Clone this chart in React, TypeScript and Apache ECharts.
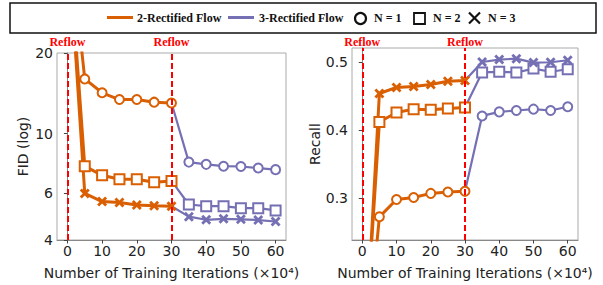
import React, { useEffect, useRef } from "react";
import * as echarts from "echarts";

// x positions (×10^4 iterations)
const iters2 = [0, 5, 10, 15, 20, 25, 30];
const iters3 = [35, 40, 45, 50, 55, 60];
const xTicks = [0, 10, 20, 30, 40, 50, 60];
const reflowAt = [0, 30];

// FID (log scale)
const fid2N1 = [65, 16.0, 14.2, 13.4, 13.4, 13.1, 13.0];
const fid3N1 = [7.82, 7.67, 7.55, 7.53, 7.43, 7.33];
const fid2N2 = [60, 7.55, 6.98, 6.75, 6.75, 6.57, 6.65];
const fid3N2 = [5.43, 5.35, 5.35, 5.26, 5.26, 5.16];
const fid2N3 = [58, 5.97, 5.57, 5.52, 5.41, 5.37, 5.35];
const fid3N3 = [4.89, 4.76, 4.8, 4.78, 4.75, 4.69];
const fidTicks = [4, 6, 10, 20];

// Recall
const rec2N1 = [0.01, 0.2725, 0.298, 0.301, 0.307, 0.309, 0.31];
const rec3N1 = [0.421, 0.427, 0.429, 0.431, 0.429, 0.4345];
const rec2N2 = [0.02, 0.412, 0.426, 0.431, 0.43, 0.432, 0.4335];
const rec3N2 = [0.485, 0.486, 0.485, 0.4907, 0.486, 0.4897];
const rec2N3 = [0.0, 0.454, 0.463, 0.4644, 0.4673, 0.472, 0.473];
const rec3N3 = [0.5004, 0.504, 0.5053, 0.4995, 0.5, 0.503];
const recTicks = [0.3, 0.4, 0.5];

const ORANGE = "#d95f02";
const PURPLE = "#7570b3";
const CROSS = "path://M2,0L5,3L8,0L10,2L7,5L10,8L8,10L5,7L2,10L0,8L3,5L0,2Z";
const AXIS_FONT = "DejaVu Sans";
const SERIF = "Liberation Serif";

const lg = (v: number) => Math.log10(v);

export default function App() {
  const ref = useRef<HTMLDivElement>(null);
  useEffect(() => {
    if (!ref.current) return;
    const chart = echarts.init(ref.current, null, { renderer: "svg" });

    const mk2 = (vals: number[], tf: (v: number) => number) =>
      iters2.map((x, i) =>
        i === 0 ? { value: [x, tf(vals[i])], symbol: "none" } : { value: [x, tf(vals[i])] }
      );
    const mk3 = (start: number, vals: number[], tf: (v: number) => number) => [
      { value: [30, tf(start)], symbol: "none" },
      ...iters3.map((x, i) => ({ value: [x, tf(vals[i])] })),
    ];

    const sym = (s: string) =>
      s === "cross"
        ? { symbol: CROSS, symbolSize: 10 }
        : { symbol: s, symbolSize: s === "emptyRect" ? 10 : 9 };

    const mkSeries = (
      gi: number,
      color: string,
      width: number,
      s: string,
      data: any[],
      z: number
    ) => ({
      type: "line",
      xAxisIndex: gi,
      yAxisIndex: gi,
      data,
      ...sym(s),
      showAllSymbol: true,
      z,
      lineStyle: { color, width },
      itemStyle:
        s === "cross"
          ? { color, borderWidth: 0 }
          : { color, borderColor: color, borderWidth: 2 },
      clip: true,
    });

    const markLine = (distance: number) => ({
      silent: true,
      symbol: ["none", "none"],
      lineStyle: { color: "#ff0000", type: [6, 3], width: 2 },
      label: {
        show: true,
        position: "end",
        formatter: "Reflow",
        color: "#ff0000",
        fontFamily: SERIF,
        fontWeight: "bold",
        fontSize: 12,
        distance,
      },
      data: reflowAt.map((x) => ({ xAxis: x })),
    });

    const idt = (v: number) => v;
    const series: any[] = [
      // left: FID
      { ...mkSeries(0, PURPLE, 2.2, "emptyCircle", mk3(fid2N1[6], fid3N1, lg), 2) },
      { ...mkSeries(0, PURPLE, 2.2, "emptyRect", mk3(fid2N2[6], fid3N2, lg), 2) },
      { ...mkSeries(0, PURPLE, 2.2, "cross", mk3(fid2N3[6], fid3N3, lg), 2) },
      { ...mkSeries(0, ORANGE, 3, "emptyCircle", mk2(fid2N1, lg), 3), markLine: markLine(5) },
      { ...mkSeries(0, ORANGE, 3, "emptyRect", mk2(fid2N2, lg), 3) },
      { ...mkSeries(0, ORANGE, 3, "cross", mk2(fid2N3, lg), 3) },
      // right: Recall
      { ...mkSeries(1, PURPLE, 2.2, "emptyCircle", mk3(rec2N1[6], rec3N1, idt), 2) },
      { ...mkSeries(1, PURPLE, 2.2, "emptyRect", mk3(rec2N2[6], rec3N2, idt), 2) },
      { ...mkSeries(1, PURPLE, 2.2, "cross", mk3(rec2N3[6], rec3N3, idt), 2) },
      { ...mkSeries(1, ORANGE, 3, "emptyCircle", mk2(rec2N1, idt), 3), markLine: markLine(0) },
      { ...mkSeries(1, ORANGE, 3, "emptyRect", mk2(rec2N2, idt), 3) },
      { ...mkSeries(1, ORANGE, 3, "cross", mk2(rec2N3, idt), 3) },
    ];

    const axisCommon = {
      axisLine: { show: true, lineStyle: { color: "#888", width: 1 } },
      splitLine: { show: false },
      nameTextStyle: { fontFamily: AXIS_FONT, fontSize: 14, color: "#222" },
    };

    const xAxis = (gi: number) => ({
      type: "value",
      gridIndex: gi,
      min: -3,
      max: 63,
      ...axisCommon,
      axisTick: { show: true, length: 3.5, lineStyle: { color: "#444" }, customValues: xTicks },
      axisLabel: {
        customValues: xTicks,
        fontFamily: AXIS_FONT,
        fontSize: 14,
        color: "#222",
        margin: 4,
      },
      name: "Number of Training Iterations (×10⁴)",
      nameLocation: "middle",
      nameGap: 26,
    });

    const fidTickVals = fidTicks.map(lg);
    const option: any = {
      animation: false,
      grid: [
        { left: 57, top: 53, width: 229, height: 188, show: true, borderColor: "#aaa", borderWidth: 1 },
        { left: 352, top: 48, width: 226, height: 193, show: true, borderColor: "#aaa", borderWidth: 1 },
      ],
      xAxis: [xAxis(0), xAxis(1)],
      yAxis: [
        {
          type: "value",
          gridIndex: 0,
          min: lg(4),
          max: lg(20),
          ...axisCommon,
          axisTick: { show: true, length: 3.5, lineStyle: { color: "#444" }, customValues: fidTickVals },
          axisLabel: {
            customValues: fidTickVals,
            formatter: (v: number) => String(Math.round(Math.pow(10, v))),
            fontFamily: AXIS_FONT,
            fontSize: 14,
            color: "#222",
            margin: 4,
          },
          name: "FID (log)",
          nameLocation: "middle",
          nameGap: 27,
        },
        {
          type: "value",
          gridIndex: 1,
          min: 0.2384,
          max: 0.521,
          ...axisCommon,
          axisTick: { show: true, length: 3.5, lineStyle: { color: "#444" }, customValues: recTicks },
          axisLabel: {
            customValues: recTicks,
            formatter: (v: number) => v.toFixed(1),
            fontFamily: AXIS_FONT,
            fontSize: 14,
            color: "#222",
            margin: 4,
          },
          name: "Recall",
          nameLocation: "middle",
          nameGap: 30,
        },
      ],
      series,
      graphic: [
        {
          type: "group",
          silent: true,
          children: [
            { type: "rect", shape: { x: 10, y: 3, width: 586, height: 30 }, style: { fill: "#fff", stroke: "#111", lineWidth: 1.5 } },
            { type: "line", shape: { x1: 107, y1: 17.5, x2: 133, y2: 17.5 }, style: { stroke: ORANGE, lineWidth: 3 } },
            { type: "text", x: 137, y: 18, style: { text: "2-Rectified Flow", fontFamily: SERIF, fontWeight: "bold", fontSize: 12, fill: "#111", verticalAlign: "middle" } },
            { type: "line", shape: { x1: 228, y1: 17.5, x2: 254, y2: 17.5 }, style: { stroke: PURPLE, lineWidth: 3 } },
            { type: "text", x: 259, y: 18, style: { text: "3-Rectified Flow", fontFamily: SERIF, fontWeight: "bold", fontSize: 12, fill: "#111", verticalAlign: "middle" } },
            { type: "circle", shape: { cx: 360.5, cy: 18.5, r: 5.5 }, style: { fill: "none", stroke: "#111", lineWidth: 2.2 } },
            { type: "text", x: 374, y: 18, style: { text: "N = 1", fontFamily: SERIF, fontWeight: "bold", fontSize: 12, fill: "#111", verticalAlign: "middle" } },
            { type: "rect", shape: { x: 414, y: 13, width: 11, height: 11 }, style: { fill: "none", stroke: "#111", lineWidth: 1.8 } },
            { type: "text", x: 433, y: 18, style: { text: "N = 2", fontFamily: SERIF, fontWeight: "bold", fontSize: 12, fill: "#111", verticalAlign: "middle" } },
            { type: "line", shape: { x1: 469, y1: 12.5, x2: 480, y2: 23.5 }, style: { stroke: "#111", lineWidth: 2.2 } },
            { type: "line", shape: { x1: 480, y1: 12.5, x2: 469, y2: 23.5 }, style: { stroke: "#111", lineWidth: 2.2 } },
            { type: "text", x: 488, y: 18, style: { text: "N = 3", fontFamily: SERIF, fontWeight: "bold", fontSize: 12, fill: "#111", verticalAlign: "middle" } },
          ],
        },
      ],
    };

    chart.setOption(option);
    return () => chart.dispose();
  }, []);

  return (
    <div
      ref={ref}
      style={{ position: "fixed", left: 0, top: 0, width: 603, height: 285, background: "#fff" }}
    />
  );
}
